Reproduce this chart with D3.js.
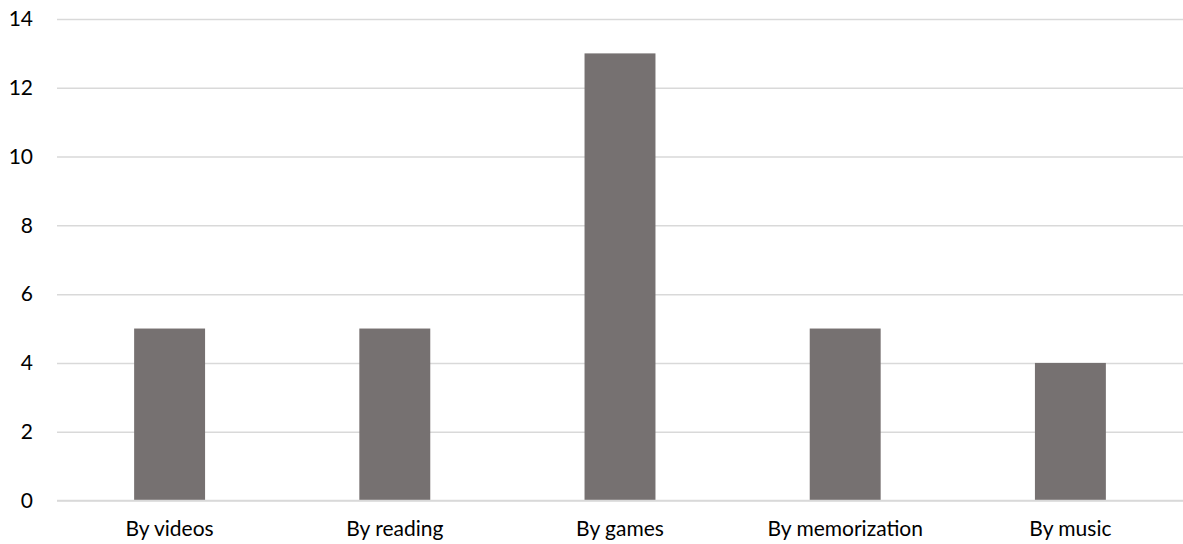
<!DOCTYPE html>
<html>
<head>
<meta charset="utf-8">
<script src="https://cdn.jsdelivr.net/npm/d3@7/dist/d3.min.js"></script>
<style>
  html, body { margin: 0; padding: 0; background: #fff; }
  svg text { font-family: Lato, "Open Sans", sans-serif; fill: #000; }
</style>
</head>
<body>
<div id="chart"></div>
<script>
// Learning methods and how many respondents chose each
const categories = ["By videos", "By reading", "By games", "By memorization", "By music"];
const values = [5, 5, 13, 5, 4];
const yTicks = [0, 2, 4, 6, 8, 10, 12, 14];

const width = 1183, height = 544;
const margin = { top: 19, right: 0, bottom: 43.5, left: 57 };

const svg = d3.select("#chart").append("svg")
  .attr("width", width)
  .attr("height", height);

const x = d3.scaleBand()
  .domain(categories)
  .range([margin.left, width - margin.right])
  .paddingInner(0.685)
  .paddingOuter(0.3425);

const y = d3.scaleLinear()
  .domain([0, 14])
  .range([height - margin.bottom, margin.top]);

// horizontal gridlines
const yAxis = d3.axisLeft(y)
  .tickValues(yTicks)
  .tickSize(-(width - margin.left - margin.right))
  .tickPadding(24)
  .tickFormat(d3.format("d"));

const gy = svg.append("g")
  .attr("transform", `translate(${margin.left},0)`)
  .call(yAxis);
gy.select(".domain").remove();
gy.selectAll(".tick line").attr("stroke", "#d9d9d9").attr("stroke-width", 1.5);
gy.selectAll(".tick text").attr("font-size", 21).attr("fill", "#000");

// bars
svg.append("g").selectAll("rect")
  .data(values)
  .join("rect")
  .attr("x", (d, i) => x(categories[i]))
  .attr("width", x.bandwidth())
  .attr("y", d => y(d))
  .attr("height", d => y(0) - y(d))
  .attr("fill", "#767171");

// redraw zero baseline above bars
svg.append("line")
  .attr("x1", margin.left).attr("x2", width - margin.right)
  .attr("y1", y(0)).attr("y2", y(0))
  .attr("stroke", "#d9d9d9").attr("stroke-width", 1.5);

// category labels
const xAxis = d3.axisBottom(x).tickSize(0).tickPadding(21);
const gx = svg.append("g")
  .attr("transform", `translate(0,${y(0)})`)
  .call(xAxis);
gx.select(".domain").remove();
gx.selectAll(".tick text").attr("font-size", 21).attr("fill", "#000");
</script>
</body>
</html>
